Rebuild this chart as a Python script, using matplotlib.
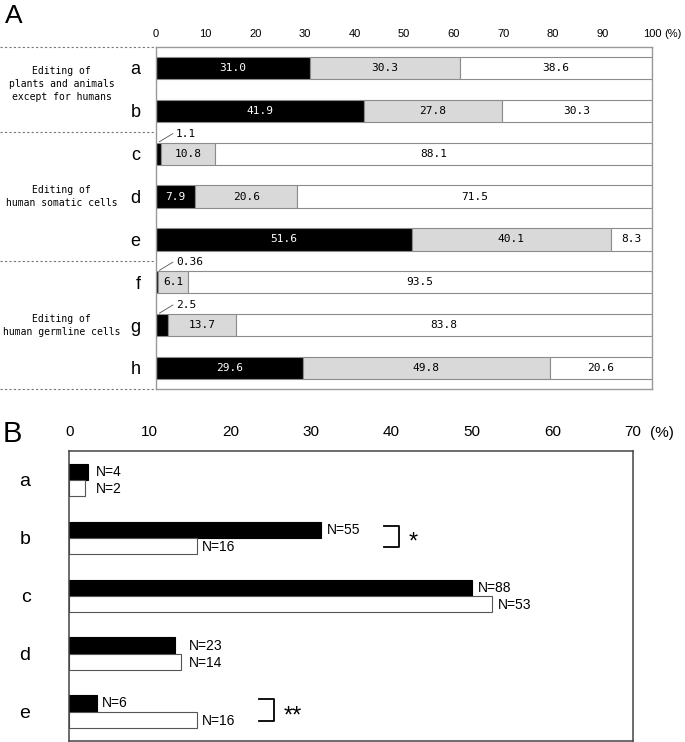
import matplotlib
matplotlib.use("Agg")
import matplotlib.pyplot as plt
import matplotlib.transforms as mtransforms
import numpy as np

# ---- panel A data (%)
rows_a = ["a", "b", "c", "d", "e", "f", "g", "h"]
black_a = [31.0, 41.9, 1.1, 7.9, 51.6, 0.36, 2.5, 29.6]
gray_a = [30.3, 27.8, 10.8, 20.6, 40.1, 6.1, 13.7, 49.8]
white_a = [38.6, 30.3, 88.1, 71.5, 8.3, 93.5, 83.8, 20.6]
groups_a = ["Editing of\nplants and animals\nexcept for humans",
            "Editing of\nhuman somatic cells",
            "Editing of\nhuman germline cells"]
group_rows = [(0, 1), (2, 4), (5, 7)]

# ---- panel B data
rows_b = ["a", "b", "c", "d", "e"]
pct_black = [2.3, 31.3, 50.0, 13.1, 3.4]
pct_white = [2.0, 15.8, 52.5, 13.9, 15.8]
n_black = [4, 55, 88, 23, 6]
n_white = [2, 16, 53, 14, 16]
signif = {"b": "*", "e": "**"}

sans = ["Liberation Sans", "DejaVu Sans"]
mono = ["DejaVu Sans Mono"]

fig = plt.figure(figsize=(6.85, 7.42), dpi=100)
W, H = 685, 742

# ================= A
axA = fig.add_axes([156 / W, 1 - 389 / H, 496 / W, 342 / H])
y = np.arange(len(rows_a))
bh = 0.52
edge = "#8c8c8c"
lefts = np.zeros(len(rows_a))
for vals, col in [(black_a, "black"), (gray_a, "#d9d9d9"), (white_a, "white")]:
    vals = np.array(vals)
    axA.barh(y, vals, left=lefts, height=bh, color=col, edgecolor=edge, linewidth=0.8)
    for yi, l, v in zip(y, lefts, vals):
        if v >= 5:
            axA.text(l + v / 2, yi, str(v), ha="center", va="center", fontsize=8,
                     family=mono, color="white" if col == "black" else "black")
        else:
            # small value: label above with leader line
            axA.plot([0.7, 3.4], [yi - 0.28, yi - 0.47], color="#555555", lw=0.6,
                     clip_on=False)
            axA.text(4.0, yi - 0.47, str(v), ha="left", va="center", fontsize=8,
                     family=mono)
    lefts = lefts + vals

axA.set_xlim(0, 100)
axA.set_ylim(len(rows_a) - 0.51, -0.49)
axA.xaxis.tick_top()
axA.set_xticks(range(0, 101, 10))
axA.set_xticklabels([str(v) for v in range(0, 101, 10)], family=sans, fontsize=8)
axA.set_yticks(y)
axA.set_yticklabels(rows_a, family=sans, fontsize=13)
axA.tick_params(axis="both", length=0)
axA.tick_params(axis="x", pad=6)
axA.tick_params(axis="y", pad=11)
for s in axA.spines.values():
    s.set_color("#999999")
    s.set_linewidth(1.0)
axA.text(1.025, 1.038, "(%)", transform=axA.transAxes, ha="left", va="center",
         family=sans, fontsize=8)

trA = mtransforms.blended_transform_factory(axA.transAxes, axA.transData)
ylo, yhi = axA.get_ylim()
bounds = [yhi, 1.5, 4.5, ylo]
for b in bounds:
    axA.plot([-0.3145, 0], [b, b], transform=trA, clip_on=False, color="#777777",
             lw=0.8, ls=(0, (2, 2)))
for lab, (r0, r1) in zip(groups_a, group_rows):
    yc = (r0 + r1) / 2
    axA.text(-0.19, yc - (0.12 if lab.count("\n") == 2 else 0), lab, transform=trA,
             ha="center", va="center", fontsize=7, family=mono, linespacing=1.4)

fig.text(5 / W, 1 - 16 / H, "A", family=sans, fontsize=19, ha="left", va="center")

# ================= B
axB = fig.add_axes([69.3 / W, 1 - 740.5 / H, 563.7 / W, 289.5 / H])
yb = np.arange(len(rows_b))
hb = 0.28
axB.barh(yb - hb / 2, pct_black, height=hb, color="black", edgecolor="black", linewidth=0.8)
axB.barh(yb + hb / 2, pct_white, height=hb, color="white", edgecolor="#555555", linewidth=0.8)

px = 70 / 563.7  # data units per pixel
for i, r in enumerate(rows_b):
    xb, xw = pct_black[i], pct_white[i]
    if abs(xb - xw) < 2:
        xb = xw = max(xb, xw) + 2 * px
    axB.annotate(f"N={n_black[i]}", (xb, i - hb / 2), xytext=(4, 0),
                 textcoords="offset points", ha="left", va="center",
                 fontsize=10, family=sans)
    axB.annotate(f"N={n_white[i]}", (xw, i + hb / 2), xytext=(4, -1),
                 textcoords="offset points", ha="left", va="center",
                 fontsize=10, family=sans)
    if r in signif:
        bx = max(pct_black[i], pct_white[i]) + 7.8
        axB.plot([bx, bx + 1.8, bx + 1.8, bx], [i - 0.21, i - 0.21, i + 0.16, i + 0.16],
                 color="black", lw=1.3)
        axB.text(bx + 3.0, i + 0.08, signif[r], ha="left", va="center", fontsize=17,
                 family=sans)

axB.set_xlim(0, 70)
axB.set_ylim(len(rows_b) - 0.5, -0.5)
axB.xaxis.tick_top()
axB.set_xticks(range(0, 71, 10))
axB.set_xticklabels([str(v) for v in range(0, 71, 10)], family=sans, fontsize=11)
axB.set_yticks(yb)
axB.set_yticklabels(rows_b, family=sans, fontsize=14)
axB.tick_params(axis="both", length=0)
axB.tick_params(axis="x", pad=9)
axB.tick_params(axis="y", pad=28)
for s in axB.spines.values():
    s.set_color("#444444")
    s.set_linewidth(1.1)
axB.text(1.03, 1.062, "(%)", transform=axB.transAxes, ha="left", va="center",
         family=sans, fontsize=11)

fig.text(3 / W, 1 - 434 / H, "B", family=sans, fontsize=21, ha="left", va="center")

fig.savefig("out.png", dpi=100)
